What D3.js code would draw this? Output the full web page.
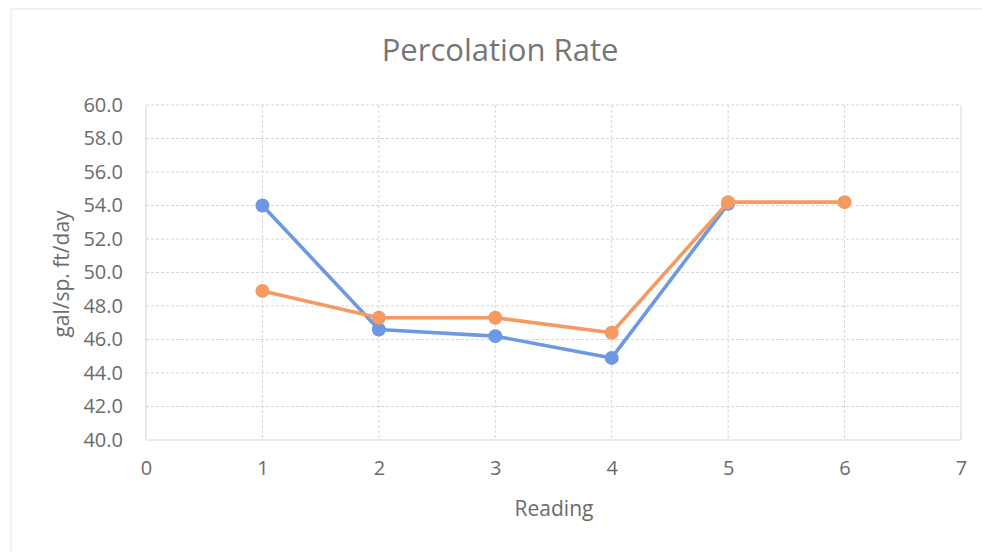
<!DOCTYPE html>
<html>
<head>
<meta charset="utf-8">
<script src="https://cdn.jsdelivr.net/npm/d3@7"></script>
<style>
  body { margin: 0; background: #fff; }
</style>
</head>
<body>
<div id="container"></div>
<script>
/* DATA */
const readings = [1, 2, 3, 4, 5, 6];
const seriesA = [54.0, 46.6, 46.2, 44.9, 54.1];          // blue
const seriesB = [48.9, 47.3, 47.3, 46.4, 54.2, 54.2];    // orange
const xTicks = [0, 1, 2, 3, 4, 5, 6, 7];
const yTicks = [40, 42, 44, 46, 48, 50, 52, 54, 56, 58, 60];

/* CONSTANTS */
const width = 982;
const height = 552;
const margin = { left: 146, right: 21, top: 105, bottom: 112 };

const svg = d3.select("#container").append("svg")
  .attr("width", width)
  .attr("height", height)

// faint chart frame (right edge runs off the page)
svg.append("rect")
  .attr("x", 11).attr("y", 9)
  .attr("width", 990).attr("height", 560)
  .attr("fill", "none")
  .attr("stroke", "#e6e6e6")

/* SCALES */
const xScale = d3.scaleLinear()
  .domain([0, 7])
  .range([margin.left, width - margin.right])

const yScale = d3.scaleLinear()
  .domain([40, 60])
  .range([height - margin.bottom, margin.top])

/* GRID */
svg.append("g")
  .selectAll("line.h")
  .data(yTicks)
  .join("line")
  .attr("x1", margin.left)
  .attr("x2", width - margin.right)
  .attr("y1", d => yScale(d))
  .attr("y2", d => yScale(d))
  .attr("stroke", "#d6d6d6")
  .attr("stroke-dasharray", d => d === 40 ? null : "3,2")

svg.append("g")
  .selectAll("line.v")
  .data(xTicks)
  .join("line")
  .attr("x1", d => xScale(d))
  .attr("x2", d => xScale(d))
  .attr("y1", margin.top)
  .attr("y2", height - margin.bottom)
  .attr("stroke", "#d6d6d6")
  .attr("stroke-dasharray", d => (d === 0 || d === 7) ? null : "3,2")

/* AXES */
const xAxis = d3.axisBottom(xScale).tickValues(xTicks).tickSize(0).tickPadding(21).tickFormat(d3.format("d"));
const yAxis = d3.axisLeft(yScale).tickValues(yTicks).tickSize(0).tickPadding(23).tickFormat(d3.format(".1f"));

const styleTicks = g => {
  g.select(".domain").remove()
  g.attr("font-family", "'Open Sans', sans-serif").attr("font-size", 20)
  g.selectAll(".tick text").attr("fill", "#6b6b6b")
}

svg.append("g")
  .attr("transform", `translate(0, ${height - margin.bottom})`)
  .call(xAxis)
  .call(styleTicks)

svg.append("g")
  .attr("transform", `translate(${margin.left}, 0)`)
  .call(yAxis)
  .call(styleTicks)

/* LINES */
const line = d3.line()
  .x(d => xScale(d.x))
  .y(d => yScale(d.y))

const dataA = seriesA.map((v, i) => ({ x: readings[i], y: v }))
const dataB = seriesB.map((v, i) => ({ x: readings[i], y: v }))

const series = [
  { data: dataA, color: "#6d98e2" },
  { data: dataB, color: "#f49a62" }
]

series.forEach(s => {
  svg.append("path")
    .datum(s.data)
    .attr("d", line)
    .attr("fill", "none")
    .attr("stroke", s.color)
    .attr("stroke-width", 3.6)
    .attr("stroke-linejoin", "round")

  svg.append("g")
    .selectAll("circle")
    .data(s.data)
    .join("circle")
    .attr("cx", d => xScale(d.x))
    .attr("cy", d => yScale(d.y))
    .attr("r", 7)
    .attr("fill", s.color)
})

/* TITLES */
svg.append("text")
  .attr("x", 500)
  .attr("y", 61)
  .attr("text-anchor", "middle")
  .attr("fill", "#767676")
  .style("font-family", "'Open Sans', sans-serif")
  .style("font-size", "31px")
  .text("Percolation Rate");

svg.append("text")
  .attr("x", 554)
  .attr("y", 516)
  .attr("text-anchor", "middle")
  .attr("fill", "#6b6b6b")
  .style("font-family", "'Open Sans', sans-serif")
  .style("font-size", "21px")
  .text("Reading");

svg.append("text")
  .attr("transform", `translate(69, 274) rotate(-90)`)
  .attr("text-anchor", "middle")
  .attr("fill", "#6b6b6b")
  .style("font-family", "'Open Sans', sans-serif")
  .style("font-size", "21px")
  .text("gal/sp. ft/day");
</script>
</body>
</html>
